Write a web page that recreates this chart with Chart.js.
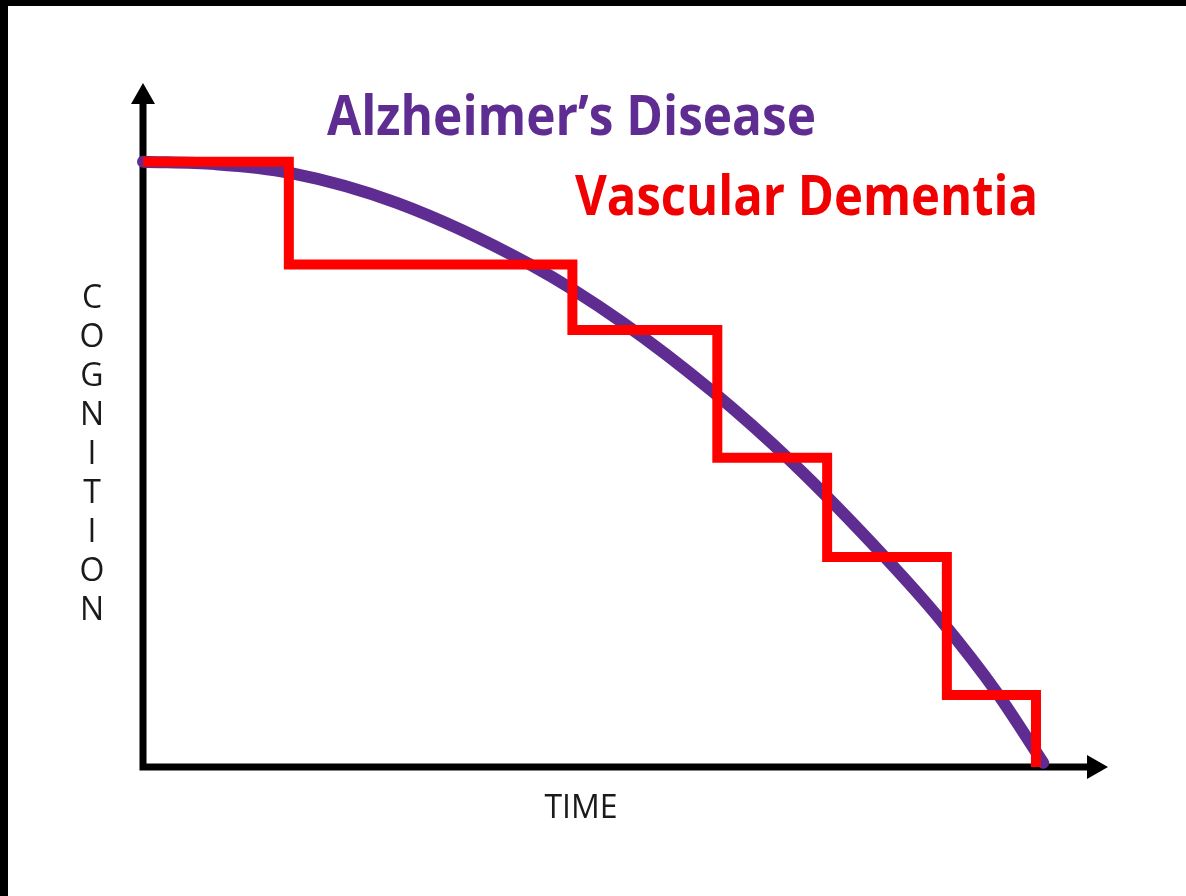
<!DOCTYPE html>
<html>
<head>
<meta charset="utf-8">
<script src="https://cdn.jsdelivr.net/npm/chart.js@4"></script>
<style>
	html, body { margin: 0; padding: 0; background: #000; }
	#wrap { position: absolute; left: 8px; top: 6px; width: 1178px; height: 890px; background: #fff; }
</style>
</head>
<body>
<div id="wrap"><canvas id="chart" width="1178" height="890"></canvas></div>
<script>
// Data (time 0..100, cognition 0..100)
const alzTime = [0, 8, 16.2, 28.2, 43, 53.3, 63.3, 72.2, 82.7, 88.6, 94.9, 100];
const alzCognition = [100, 99.6, 98.2, 93.2, 83, 73.4, 62, 50.2, 34.2, 24.3, 12.2, 0.7];
const vascTime = [0, 16.2, 47.7, 63.8, 76, 89.3, 99.2];
const vascCognition = [100, 83, 72.2, 51.1, 34.7, 11.9, 0];

const seriesNames = ['Alzheimer\u2019s Disease', 'Vascular Dementia'];
const axisNames = ['TIME', 'COGNITION'];

const purple = '#5f2d91';
const red = '#ff0000';

const toPoints = (xs, ys) => xs.map((x, i) => ({ x, y: ys[i] }));

// axes with arrowheads + text labels
const decor = {
	id: 'decor',
	beforeDatasetsDraw(chart) {
		const { ctx, chartArea, scales } = chart;
		const x0 = scales.x.getPixelForValue(0);
		const y0 = scales.y.getPixelForValue(0);
		ctx.save();
		ctx.strokeStyle = '#000';
		ctx.fillStyle = '#000';
		ctx.lineWidth = 7;
		ctx.beginPath();
		ctx.moveTo(x0, y0 + 3.5);
		ctx.lineTo(x0, chartArea.top + 15);
		ctx.moveTo(x0 - 3.5, y0);
		ctx.lineTo(chartArea.right - 15, y0);
		ctx.stroke();
		// arrowheads
		ctx.beginPath();
		ctx.moveTo(x0, chartArea.top);
		ctx.lineTo(x0 - 12, chartArea.top + 21);
		ctx.lineTo(x0 + 12, chartArea.top + 21);
		ctx.closePath();
		ctx.moveTo(chartArea.right, y0);
		ctx.lineTo(chartArea.right - 21, y0 - 12);
		ctx.lineTo(chartArea.right - 21, y0 + 12);
		ctx.closePath();
		ctx.fill();
		ctx.restore();
	},
	afterDraw(chart) {
		const { ctx } = chart;
		ctx.save();
		const fitText = (text, left, baseline, width, color) => {
			ctx.font = 'bold 56px "Open Sans"';
			const w = ctx.measureText(text).width;
			ctx.save();
			ctx.translate(left, baseline);
			ctx.scale(width / w, 1);
			ctx.fillStyle = color;
			ctx.textAlign = 'left';
			ctx.textBaseline = 'alphabetic';
			ctx.fillText(text, 0, 0);
			ctx.restore();
		};
		fitText(seriesNames[0], 319, 129, 489, purple);
		fitText(seriesNames[1], 567, 209, 463, '#f00000');

		ctx.fillStyle = '#1a1a1a';
		ctx.font = '32px "Open Sans"';
		ctx.textAlign = 'center';
		ctx.textBaseline = 'alphabetic';
		ctx.fillText(axisNames[0], 573, 812);
		const letters = axisNames[1].split('');
		letters.forEach((ch, i) => ctx.fillText(ch, 84, 302 + i * 39));
		ctx.restore();
	}
};

new Chart(document.getElementById('chart'), {
	type: 'line',
	data: {
		datasets: [
			{
				label: seriesNames[1],
				data: toPoints(vascTime, vascCognition),
				borderColor: red,
				borderWidth: 10,
				stepped: 'before',
				pointRadius: 0,
				borderJoinStyle: 'miter',
				borderCapStyle: 'butt',
				fill: false
			},
			{
				label: seriesNames[0],
				data: toPoints(alzTime, alzCognition),
				borderColor: purple,
				borderWidth: 12,
				cubicInterpolationMode: 'monotone',
				pointRadius: 0,
				borderCapStyle: 'round',
				fill: false
			}
		]
	},
	options: {
		responsive: false,
		animation: false,
		layout: { padding: { left: 135, right: 78, top: 77, bottom: 129 } },
		scales: {
			x: { type: 'linear', min: 0, max: 107.2, display: false },
			y: { type: 'linear', min: 0, max: 113, display: false }
		},
		plugins: {
			legend: { display: false },
			tooltip: { enabled: false }
		},
		clip: false
	},
	plugins: [decor]
});
</script>
</body>
</html>
